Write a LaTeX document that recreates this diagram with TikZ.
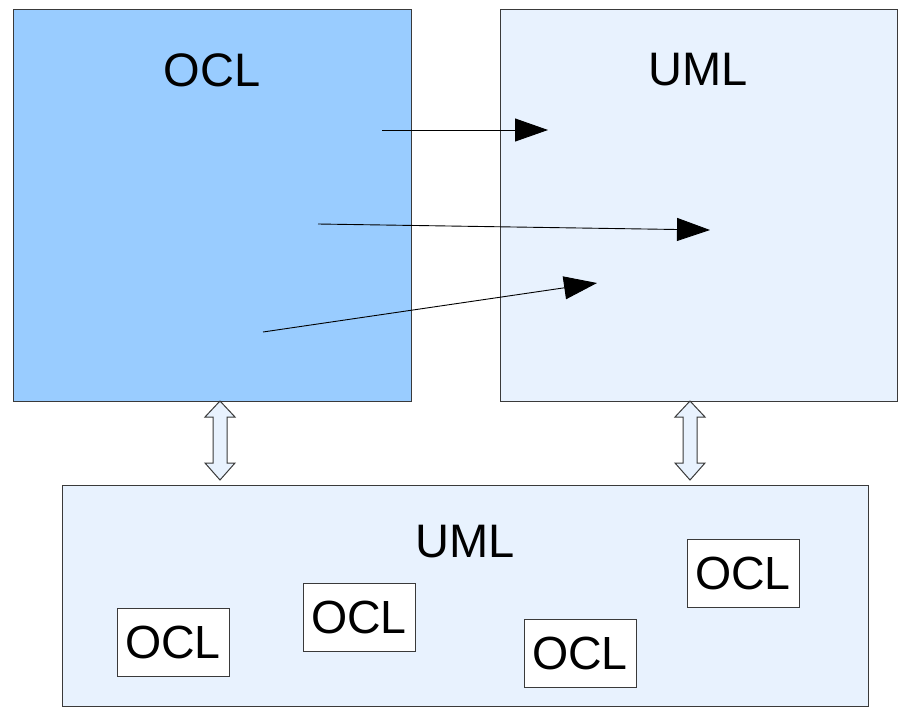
\documentclass[tikz,border=0pt]{standalone}
\usepackage{fontspec}
\setmainfont{Liberation Sans}
\usetikzlibrary{arrows.meta}
\definecolor{oclblue}{HTML}{99CCFF}
\definecolor{umlpale}{HTML}{E8F2FE}
\definecolor{edge}{HTML}{3A3A3A}
\tikzset{
  panel/.style={draw=edge, line width=1pt, anchor=north west, inner sep=0pt},
  label/.style={font=\fontsize{47}{52}\selectfont, inner sep=0pt},
  oclbox/.style={draw=edge, fill=white, line width=1pt, minimum width=112pt, minimum height=68pt, inner sep=0pt, font=\fontsize{46.5}{52}\selectfont},
  link/.style={line width=0.9pt, -{Triangle[length=33pt,width=23pt]}},
  twoway/.style={draw=edge, fill=umlpale, line width=1pt, line join=miter},
}
\begin{document}
\begin{tikzpicture}[x=1pt,y=-1pt]
\useasboundingbox (0,0) rectangle (902,707);

% the three panels
\node[panel, fill=oclblue, minimum width=398pt, minimum height=392pt] (ocl) at (13,9) {};
\node[panel, fill=umlpale, minimum width=397pt, minimum height=392pt] (uml) at (500,9) {};
\node[panel, fill=umlpale, minimum width=806pt, minimum height=221pt] (mix) at (62,485) {};

\node[label] (oclt) at (212,70) {OCL};
\node[label] (umlt) at (698,70) {UML};
\node[label] (mixt) at (465,542) {UML};

% OCL snippets inside the bottom panel
\node[oclbox] (s1) at (173,642) {OCL};
\node[oclbox] (s2) at (359,617) {OCL};
\node[oclbox] (s3) at (580,653) {OCL};
\node[oclbox] (s4) at (743,573) {OCL};

% mappings from OCL to UML
\coordinate (a1) at (382,130);  \coordinate (b1) at (548,130);
\coordinate (a2) at (318,224);  \coordinate (b2) at (710,230);
\coordinate (a3) at (263,332);  \coordinate (b3) at (597,283);
\draw[link] (a1) -- (b1);
\draw[link] (a2) -- (b2);
\draw[link] (a3) -- (b3);

% two-way block arrows between the panels
\foreach \cx/\name in {220/L, 690/R}{
  \coordinate (t\name) at (\cx,401);
  \coordinate (u\name) at (\cx,480);
  \draw[twoway] (t\name)
    -- ++(15,16) -- ++(-8,0) -- ++(0,46) -- ++(8,0)
    -- (u\name)
    -- ++(-15,-17) -- ++(8,0) -- ++(0,-46) -- ++(-8,0) -- cycle;
}
\end{tikzpicture}
\end{document}
